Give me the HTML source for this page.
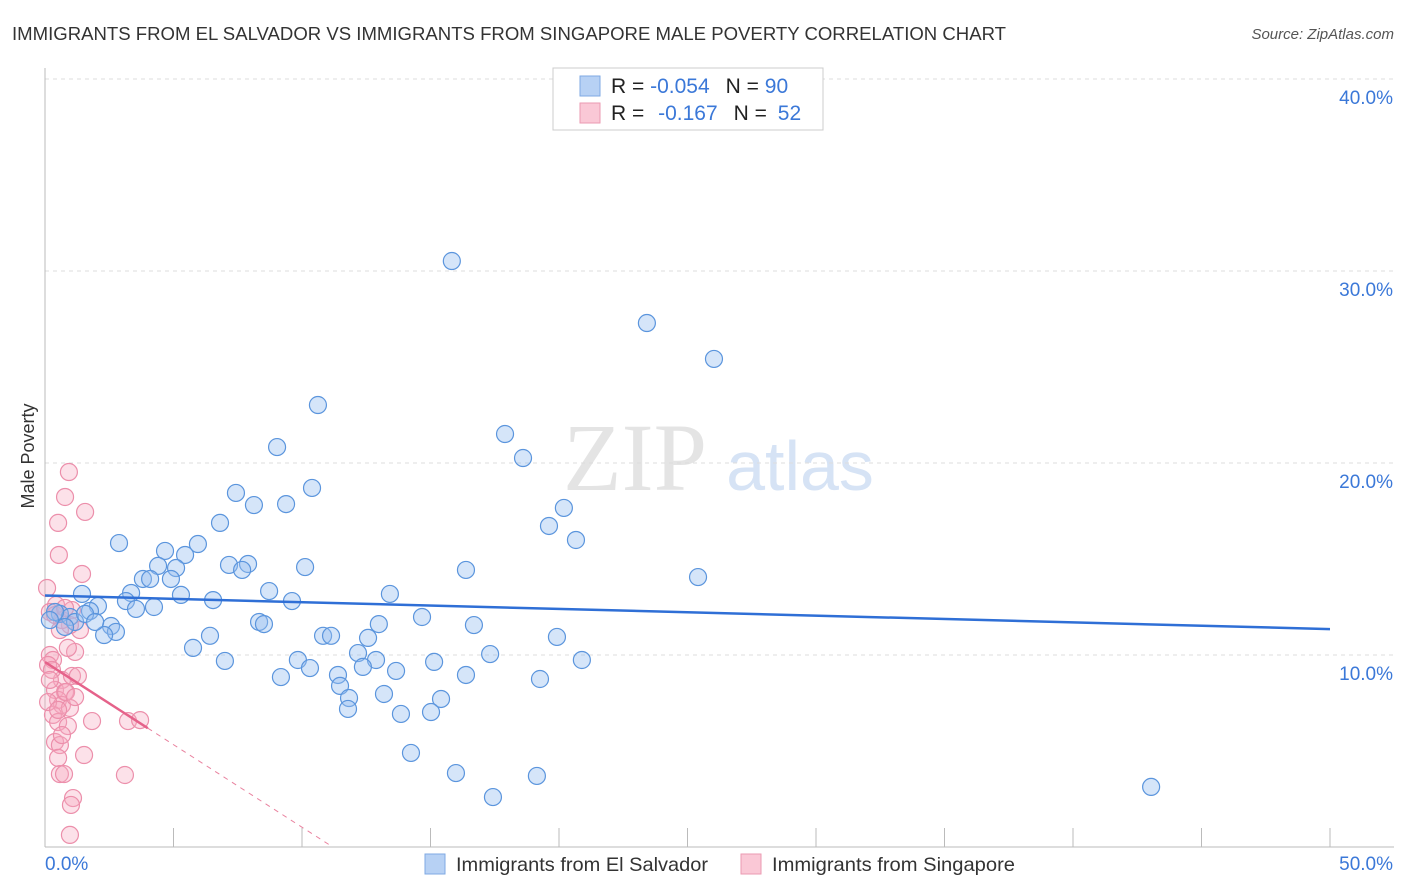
<!DOCTYPE html>
<html><head><meta charset="utf-8"><style>
body{margin:0;background:#fff;font-family:"Liberation Sans",sans-serif;}
svg{display:block}
</style></head><body>
<svg id="c" width="1406" height="892">
<text x="12" y="40" font-size="18" fill="#333" textLength="994" lengthAdjust="spacingAndGlyphs">IMMIGRANTS FROM EL SALVADOR VS IMMIGRANTS FROM SINGAPORE MALE POVERTY CORRELATION CHART</text>
<text x="1394" y="39" font-size="15" fill="#555" text-anchor="end" font-style="italic">Source: ZipAtlas.com</text>
<text x="34" y="456" font-size="18" fill="#333" text-anchor="middle" transform="rotate(-90 34 456)">Male Poverty</text>
<text x="635" y="490" font-size="96" fill="#e4e4e4" font-family="Liberation Serif,serif" text-anchor="middle">ZIP</text>
<text x="800" y="490" font-size="70" fill="#d6e3f5" text-anchor="middle">atlas</text>
<g id="grid"></g><g id="pts"></g><g id="trend"></g>
<g>
<rect x="553" y="68" width="270" height="62" fill="#fff" stroke="#ccc"/>
<rect x="580" y="76" width="20" height="20" fill="#b7d1f4" stroke="#7fa9e3"/>
<rect x="580" y="103" width="20" height="20" fill="#fac8d6" stroke="#eb9ab2"/>
<text x="611" y="93" font-size="21" fill="#222">R = <tspan fill="#3b78d8">-0.054</tspan><tspan dx="16">N = </tspan><tspan fill="#3b78d8">90</tspan></text>
<text x="611" y="120" font-size="21" fill="#222">R = <tspan dx="8" fill="#3b78d8">-0.167</tspan><tspan dx="16">N = </tspan><tspan dx="5" fill="#3b78d8">52</tspan></text>
</g>
<g>
<rect x="425" y="854" width="20" height="20" fill="#b7d1f4" stroke="#7fa9e3"/>
<text x="456" y="871" font-size="19.5" fill="#333" textLength="252" lengthAdjust="spacingAndGlyphs">Immigrants from El Salvador</text>
<rect x="741" y="854" width="20" height="20" fill="#fac8d6" stroke="#eb9ab2"/>
<text x="772" y="871" font-size="19.5" fill="#333" textLength="243" lengthAdjust="spacingAndGlyphs">Immigrants from Singapore</text>
</g>
</svg>
<script>
const xTickLabels=["0.0%","50.0%"];
const yTicks=[10,20,30,40];
const blueX=[15.83,23.42,26.03,10.62,17.9,9.03,18.6,10.39,7.43,8.13,9.38,20.19,19.61,6.81,2.88,20.66,5.95,4.67,5.45,4.4,5.1,7.16,7.9,7.67,10.12,16.38,25.41,3.81,4.09,4.9,3.35,5.29,8.72,13.42,1.44,3.15,6.54,9.61,4.24,3.54,2.06,1.75,14.67,8.33,8.52,16.69,12.99,2.57,2.76,2.3,10.82,11.13,12.57,19.92,6.42,5.76,12.18,17.32,12.88,20.89,7.0,9.84,15.14,10.31,12.37,13.66,16.38,9.18,11.4,19.26,11.48,13.19,11.83,15.41,11.79,13.85,15.02,14.24,15.99,19.14,17.43,43.04,0.58,0.97,0.39,1.17,1.56,0.78,1.95,0.19];
const blueY=[30.52,27.29,25.42,23.02,21.51,20.83,20.26,18.7,18.44,17.81,17.86,17.66,16.72,16.88,15.83,15.99,15.78,15.42,15.21,14.64,14.53,14.69,14.74,14.43,14.58,14.43,14.06,13.96,13.96,13.96,13.23,13.13,13.33,13.18,13.18,12.81,12.86,12.81,12.5,12.4,12.55,12.29,11.98,11.72,11.61,11.56,11.61,11.51,11.2,11.04,11.0,11.0,10.89,10.94,11.0,10.37,10.1,10.05,9.74,9.74,9.69,9.74,9.64,9.32,9.38,9.17,8.96,8.85,8.96,8.75,8.39,7.97,7.76,7.71,7.19,6.93,7.03,4.9,3.85,3.7,2.6,3.13,12.14,11.98,12.24,11.72,12.14,11.46,11.72,11.82];
const pinkX=[0.93,0.78,1.56,0.51,0.54,1.44,0.08,0.43,1.05,1.36,0.97,0.66,0.19,0.31,0.12,1.17,0.89,0.66,1.05,1.28,0.39,0.78,0.51,0.66,0.31,0.97,1.83,0.51,0.89,3.23,3.7,0.39,0.58,0.51,1.52,0.58,0.74,3.11,1.09,1.01,0.97,0.19,0.39,0.78,0.58,0.27,0.82,1.17,0.12,0.51,0.66,0.19];
const pinkY=[19.53,18.23,17.45,16.88,15.21,14.22,13.49,12.6,12.34,11.3,11.56,11.82,10.0,9.74,9.48,10.16,10.37,8.7,8.91,8.91,8.18,8.07,7.66,7.4,6.88,7.24,6.56,6.51,6.3,6.56,6.61,5.47,5.31,4.64,4.79,3.8,3.8,3.75,2.55,2.19,0.63,12.24,12.08,12.45,11.3,9.22,8.07,7.81,7.55,7.14,5.83,8.7];
const blueTrend=[13.1,11.35];
const pinkTrend=[9.63,-0.86];
const NS="http://www.w3.org/2000/svg";
const X=v=>45+v/50*1285, Y=v=>847-v*19.2;
function mk(t,a,p){const e=document.createElementNS(NS,t);for(const k in a)e.setAttribute(k,a[k]);p.appendChild(e);return e;}
const g=document.getElementById('grid');
yTicks.forEach(t=>{const l=mk('line',{x1:45,x2:1394,y1:Y(t),y2:Y(t),stroke:'#ddd','stroke-dasharray':'4,4'},g);


const tx=mk('text',{x:1393,y:Y(t)+25,'font-size':19,fill:'#3b78d8','text-anchor':'end'},g);tx.textContent=t+'.0%';

});
const ax=mk('line',{x1:45,x2:45,y1:68,y2:847,stroke:'#bbb'},g);


const axx=mk('line',{x1:45,x2:1394,y1:847,y2:847,stroke:'#bbb'},g);


for(let i=0;i<=10;i++){const tk=mk('line',{x1:X(i*5),x2:X(i*5),y1:828,y2:847,stroke:'#bbb'},g);

}
[[0,'start',45],[1,'end',1393]].forEach(([i,a,x])=>{const t=mk('text',{x:x,y:870,'font-size':19,fill:'#3b78d8','text-anchor':a},g);t.textContent=xTickLabels[i];

});
const P=document.getElementById('pts');
pinkX.forEach((x,i)=>{const c=mk('circle',{cx:X(x),cy:Y(pinkY[i]),r:8.5,fill:'rgba(246,170,193,0.35)',stroke:'#ec8fab','stroke-width':1.2},P);

});
blueX.forEach((x,i)=>{const c=mk('circle',{cx:X(x),cy:Y(blueY[i]),r:8.5,fill:'rgba(150,190,240,0.4)',stroke:'#5b95dd','stroke-width':1.2},P);

});
const T=document.getElementById('trend');
const bl=mk('line',{x1:X(0),y1:Y(blueTrend[0]),x2:X(50),y2:Y(blueTrend[1]),stroke:'#2f6fd6','stroke-width':2.5},T);


const pz=-pinkTrend[0]/pinkTrend[1];
const pd=mk('line',{x1:X(4),y1:Y(pinkTrend[0]+4*pinkTrend[1]),x2:X(pz),y2:Y(0),stroke:'#e9829f','stroke-width':1,'stroke-dasharray':'5,5'},T);


const pl=mk('line',{x1:X(0),y1:Y(pinkTrend[0]),x2:X(4),y2:Y(pinkTrend[0]+4*pinkTrend[1]),stroke:'#e5628a','stroke-width':2.5},T);


</script>
</body></html>
